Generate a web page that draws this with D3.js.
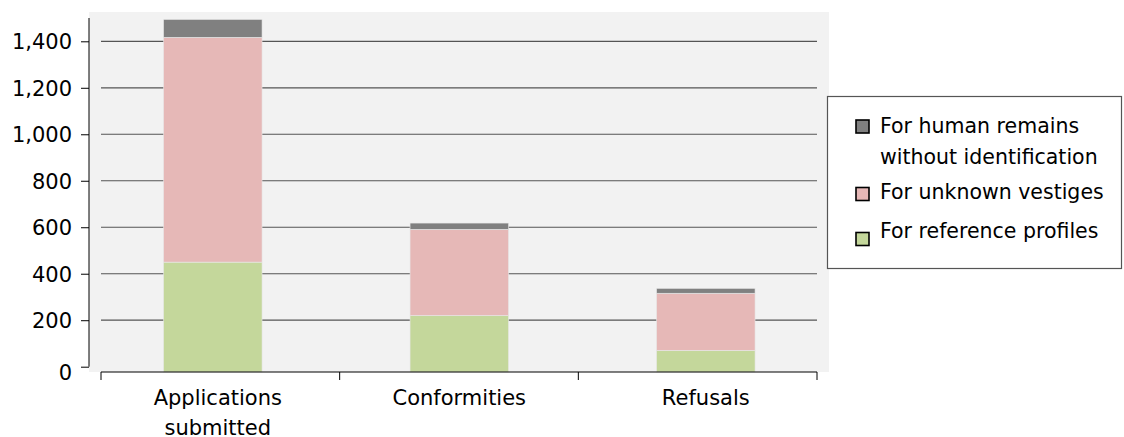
<!DOCTYPE html>
<html><head><meta charset="utf-8">
<script src="https://cdn.jsdelivr.net/npm/d3@7"></script>
<style>
html,body{margin:0;padding:0;background:#fff;}
svg{display:block;font-family:"DejaVu Sans",sans-serif;}
</style></head>
<body>
<svg id="c" width="1124" height="437"></svg>
<script>
const categories = ["Applications submitted", "Conformities", "Refusals"];
const referenceProfiles = [450, 220, 70];
const unknownVestiges = [967, 371, 246];
const humanRemains = [77, 27, 21];
const seriesNames = ["For reference profiles", "For unknown vestiges", "For human remains without identification"];
const seriesColors = ["#c4d79b", "#e6b8b7", "#808080"];
const yTicks = [0, 200, 400, 600, 800, 1000, 1200, 1400];

const svg = d3.select("#c");
const rows = categories.map((c, i) => ({cat: c, ref: referenceProfiles[i], unk: unknownVestiges[i], hum: humanRemains[i]}));
const stack = d3.stack().keys(["ref", "unk", "hum"])(rows);

const y = d3.scaleLinear().domain([0, 1400]).range([366.7, 41.3]);
const axisY = 372;
const band = d3.scaleBand().domain(categories).range([101, 817]).padding(0);
const xc = d3.scalePoint().domain(categories).range([212.8, 705.8]);
const barW = 98.5;

// plot background
svg.append("rect").attr("x", 89).attr("y", 12).attr("width", 740).attr("height", 360).attr("fill", "#f2f2f2");

// gridlines
svg.append("g").selectAll("line").data(yTicks.filter(t => t > 0)).join("line")
  .attr("x1", 101).attr("x2", 817).attr("y1", d => y(d)).attr("y2", d => y(d))
  .attr("stroke", "#555").attr("stroke-width", 1.2);

// bars
const colorOf = {ref: seriesColors[0], unk: seriesColors[1], hum: seriesColors[2]};
svg.append("g").selectAll("g").data(stack).join("g")
  .attr("fill", d => colorOf[d.key])
  .selectAll("rect").data(d => d).join("rect")
  .attr("x", d => xc(d.data.cat) - barW / 2)
  .attr("width", barW)
  .attr("y", d => y(d[1]))
  .attr("height", d => (d[0] === 0 ? axisY : y(d[0])) - y(d[1]))
  .attr("stroke", "#e8e8e8").attr("stroke-width", 0.6);

// y axis
const yAxis = svg.append("g").attr("transform", "translate(89,0)")
  .call(d3.axisLeft(y).tickValues(yTicks).tickSize(8).tickPadding(9).tickFormat(d3.format(",")));
yAxis.select(".domain").attr("d", "M0,18V366.7").attr("stroke", "#000");
yAxis.selectAll(".tick line").attr("stroke", "#000");
yAxis.selectAll(".tick text").attr("font-size", 21).attr("font-family", "DejaVu Sans").attr("fill", "#000")
  .attr("dy", d => d === 0 ? "0.6em" : "0.36em");

// x axis
const xAxisG = svg.append("g").attr("transform", `translate(0,${axisY})`);
xAxisG.append("line").attr("x1", 101).attr("x2", 817).attr("stroke", "#000");
const boundaries = [...categories.map(c => band(c)), band.range()[1]];
xAxisG.selectAll(".tk").data(boundaries).join("line").attr("class", "tk")
  .attr("x1", d => d).attr("x2", d => d).attr("y1", 0).attr("y2", 8).attr("stroke", "#000");
const lab = xAxisG.selectAll(".lab").data(categories).join("text").attr("class", "lab")
  .attr("text-anchor", "middle").attr("font-size", 21).attr("fill", "#000")
  .attr("x", (d, i) => xc(d) + (i === 0 ? 5 : 0));
lab.each(function(d) {
  const words = d === "Applications submitted" ? ["Applications", "submitted"] : [d];
  const t = d3.select(this);
  words.forEach((w, k) => t.append("tspan").attr("x", t.attr("x")).attr("y", 33 + k * 30).text(w));
});

// legend
const lg = svg.append("g");
lg.append("rect").attr("x", 827.5).attr("y", 96.5).attr("width", 294).attr("height", 172)
  .attr("fill", "#fff").attr("stroke", "#555").attr("stroke-width", 1.2);
const legendItems = [
  {name: seriesNames[2], color: seriesColors[2], sq: 120, lines: ["For human remains", "without identification"], base: 132.7},
  {name: seriesNames[1], color: seriesColors[1], sq: 187.5, lines: ["For unknown vestiges"], base: 199.3},
  {name: seriesNames[0], color: seriesColors[0], sq: 232.5, lines: ["For reference profiles"], base: 238.3}
];
legendItems.forEach(it => {
  lg.append("rect").attr("x", 856).attr("y", it.sq).attr("width", 13).attr("height", 13)
    .attr("fill", it.color).attr("stroke", "#000").attr("stroke-width", 1.6);
  const t = lg.append("text").attr("font-size", 20.5).attr("fill", "#000");
  it.lines.forEach((l, k) => t.append("tspan").attr("x", 880).attr("y", it.base + k * 31.5).text(l));
});
</script>
</body></html>
